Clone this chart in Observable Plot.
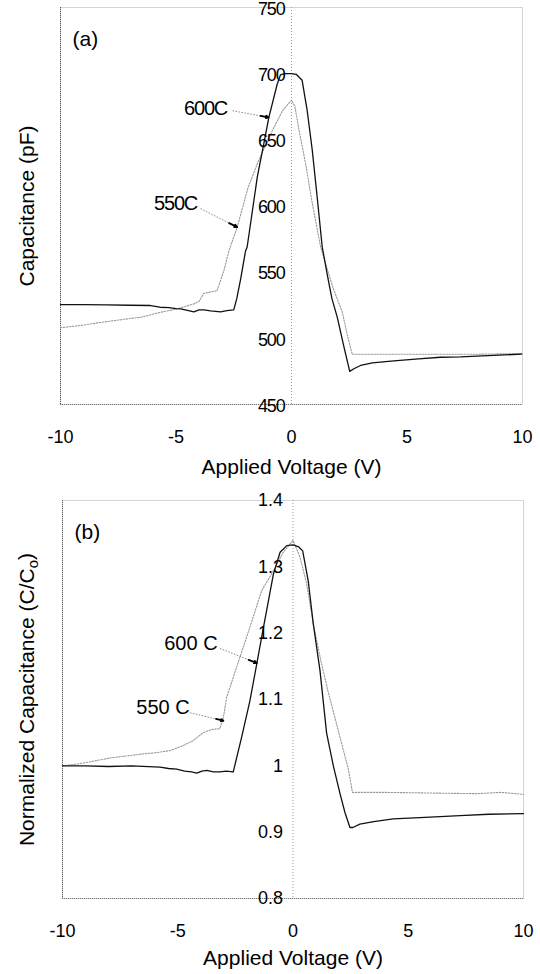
<!DOCTYPE html>
<html>
<head>
<meta charset="utf-8">
<script src="https://cdn.jsdelivr.net/npm/d3@7"></script>
<script src="https://cdn.jsdelivr.net/npm/@observablehq/plot@0.6"></script>
<style>
  html, body { margin: 0; padding: 0; background: white; }
  #chart { width: 540px; }
  #chart svg { display: block; }
</style>
</head>
<body>
<div id="chart"></div>
<script>
// ---------- Data ----------
const xTicks = [-10, -5, 0, 5, 10];
const yTicksA = [450, 500, 550, 600, 650, 700, 750];
const yTicksB = [0.8, 0.9, 1.0, 1.1, 1.2, 1.3, 1.4];
const yTickLabelsB = ["0.8", "0.9", "1", "1.1", "1.2", "1.3", "1.4"];

// Panel (a): capacitance (pF) vs applied voltage (V)
const a600V = [-10,-9,-8,-7,-6.1,-5.7,-5.3,-5,-4.8,-4.5,-4.23,-4,-3.8,-3.5,-3.07,-2.8,-2.5,-2.37,-2.2,-1.99,-1.92,-1.48,-1.2,-0.98,-0.62,-0.48,-0.3,0,0.2,0.32,0.46,0.68,0.9,1.11,1.33,1.55,1.75,1.98,2.25,2.52,2.7,2.99,3.5,4.43,5.5,6.45,7.32,8.5,9.96];
const a600C = [525.5,525.5,525.3,525,524.8,523.5,523.2,522.4,522.3,521.2,520,521.5,521.5,520.8,520,521,521.5,530,545,566,569,622,647,667,692,699,700,700,699.5,697.5,695,672,642,607,569,548,530,516,495,475,477,479.5,481.5,483,484.5,485.7,486,487,488];

const a550V = [-10,-9,-8.27,-7.1,-6.5,-5.67,-5,-4.23,-4,-3.8,-3.5,-3.22,-2.93,-2.71,-2.35,-1.88,-1.43,-0.83,-0.39,0,0.15,0.35,0.61,0.9,1.26,1.45,1.8,2.2,2.45,2.63,4,6,8,10];
const a550C = [508,510,512,514.7,516,519.7,522,526,528,534,535,536,551,566,584,614,634,657,672,680,675,655,632,602,569,558,538,519.7,500,488,488,488,488,488.5];

// Panel (b): normalized capacitance (C/Co) vs applied voltage (V)
const b600V = [-10,-9,-8,-7,-5.77,-5.4,-5.05,-4.7,-4.4,-4.18,-3.95,-3.74,-3.45,-3.17,-2.9,-2.59,-2.37,-2.23,-1.87,-1.57,-1.36,-0.85,-0.56,-0.27,0,0.25,0.42,0.66,0.88,1.17,1.46,1.75,2.04,2.25,2.47,2.6,2.9,3.5,4.35,5.5,7.25,8.5,10];
const b600N = [1.0,1.0,0.999,1.0,0.998,0.996,0.995,0.992,0.991,0.989,0.992,0.993,0.991,0.991,0.992,0.991,1.023,1.043,1.098,1.154,1.194,1.289,1.322,1.332,1.333,1.33,1.324,1.279,1.214,1.144,1.049,1.0,0.958,0.93,0.907,0.907,0.912,0.916,0.92,0.922,0.925,0.927,0.928];

const b550V = [-10,-9.3,-8.66,-7.9,-7.2,-6.5,-5.9,-5.34,-4.8,-4.33,-3.9,-3.5,-3.17,-3.02,-2.88,-2.3,-1.87,-1.36,-0.85,-0.42,0,0.3,0.59,0.88,1.2,1.5,1.8,2.1,2.4,2.58,4,6,8,9,10];
const b550N = [1.0,1.003,1.007,1.012,1.015,1.018,1.02,1.023,1.03,1.038,1.05,1.055,1.056,1.073,1.103,1.164,1.209,1.264,1.294,1.322,1.34,1.315,1.275,1.214,1.16,1.115,1.075,1.035,0.995,0.96,0.96,0.959,0.958,0.96,0.957];

// Annotations (data units): label position, arrow start, arrow tip
const annA = [
  {label: "600C", x: -3.72, y: 673.5, x1: -2.55, y1: 672, x2: -1.0, y2: 667},
  {label: "550C", x: -5.02, y: 602, x1: -3.94, y1: 598, x2: -2.35, y2: 584}
];
const annB = [
  {label: "600 C", x: -4.43, y: 1.184, x1: -3.17, y1: 1.177, x2: -1.57, y2: 1.155},
  {label: "550 C", x: -5.64, y: 1.088, x1: -4.47, y1: 1.08, x2: -3.02, y2: 1.068}
];

const zipXY = (xs, ys) => xs.map((x, i) => ({x, y: ys[i]}));
const dA600 = zipXY(a600V, a600C);
const dA550 = zipXY(a550V, a550C);
const dB600 = zipXY(b600V, b600N);
const dB550 = zipXY(b550V, b550N);

const FONT = "'Liberation Sans', Arial, Helvetica, sans-serif";

function panel({yDomain, yTicks, yLabels, d600, d550, ann, yTitle, tag, mLeft, mRight, mTop, height, tickDx, tickDy, titleDy}) {
  const yb = yDomain[0];
  return Plot.plot({
    width: 540, height,
    marginLeft: mLeft, marginRight: mRight, marginTop: mTop, marginBottom: 76,
    x: {domain: [-10, 10], axis: null},
    y: {domain: yDomain, axis: null},
    style: {fontFamily: FONT, background: "white", color: "black", overflow: "visible"},
    marks: [
      Plot.frame({stroke: "#aaa", strokeDasharray: "1,1"}),
      Plot.ruleX([-10], {stroke: "#555", strokeDasharray: "1,1"}),
      Plot.ruleY([yb], {stroke: "#777", strokeDasharray: "1,1"}),
      Plot.ruleX([0], {stroke: "#999", strokeDasharray: "1,2"}),
      Plot.line(d550, {x: "x", y: "y", stroke: "#999", strokeWidth: 1.1, strokeDasharray: "1.5,1.5"}),
      Plot.line(d600, {x: "x", y: "y", stroke: "#111", strokeWidth: 1.3}),
      Plot.text(yTicks, {x: 0, y: d => d, text: (d, i) => yLabels[i], textAnchor: "end", dx: tickDx, dy: tickDy, fontSize: 18, fill: "black"}),
      Plot.text(xTicks, {x: d => d, frameAnchor: "bottom", lineAnchor: "middle", dy: 33, text: d => String(d), fontSize: 18, fill: "black"}),
      Plot.text(["Applied Voltage (V)"], {x: 0, frameAnchor: "bottom", lineAnchor: "middle", dy: titleDy, text: d => d, fontSize: 21, fill: "black"}),
      Plot.text([yTitle], {frameAnchor: "left", textAnchor: "middle", lineAnchor: "middle", dx: -(mLeft - 27), rotate: -90, text: d => d, fontSize: 21, fill: "black"}),
      Plot.text([tag], {frameAnchor: "top-left", lineAnchor: "middle", dx: 12, dy: 32, textAnchor: "start", text: d => d, fontSize: 21, fill: "black"}),
      Plot.link(ann, {x1: "x1", y1: "y1", x2: "x2", y2: "y2", stroke: "#888", strokeWidth: 1, strokeDasharray: "1.5,1.5"}),
      Plot.arrow(ann, {
        x1: d => d.x2 - 0.22 * (d.x2 - d.x1), y1: d => d.y2 - 0.22 * (d.y2 - d.y1),
        x2: "x2", y2: "y2", stroke: "black", strokeWidth: 1.8, headLength: 8, headAngle: 50
      }),
      Plot.text(ann, {x: "x", y: "y", text: "label", fontSize: 20, fill: "black"})
    ]
  });
}

const panelA = panel({
  yDomain: [450, 750], yTicks: yTicksA, yLabels: yTicksA.map(String),
  d600: dA600, d550: dA550, ann: annA, yTitle: "Capacitance (pF)", tag: "(a)",
  mLeft: 60, mRight: 18, mTop: 7, height: 480, tickDx: -7, tickDy: 1.5, titleDy: 63
});
const panelB = panel({
  yDomain: [0.8, 1.4], yTicks: yTicksB, yLabels: yTickLabelsB,
  d600: dB600, d550: dB550, ann: annB, yTitle: "Normalized Capacitance (C/Co)", tag: "(b)",
  mLeft: 62, mRight: 17, mTop: 20, height: 494, tickDx: -10, tickDy: 0, titleDy: 60
});

const chartEl = document.getElementById("chart");
chartEl.appendChild(panelA);
chartEl.appendChild(panelB);

// condensed look of panel (a) numerals and labels
d3.select(panelA).selectAll("text").each(function () {
  const t = this.textContent;
  if (/^\d{3}C?$/.test(t)) d3.select(this).style("letter-spacing", "-1.2px");
});

// subscript "o" in C/Co
d3.select(panelB).selectAll("text").each(function () {
  if (this.textContent === "Normalized Capacitance (C/Co)") {
    const el = d3.select(this);
    el.text(null);
    el.append("tspan").text("Normalized Capacitance (C/C");
    el.append("tspan").attr("font-size", 15).attr("dy", "0.25em").text("o");
    el.append("tspan").attr("dy", "-0.25em").text(")");
  }
});
</script>
</body>
</html>
